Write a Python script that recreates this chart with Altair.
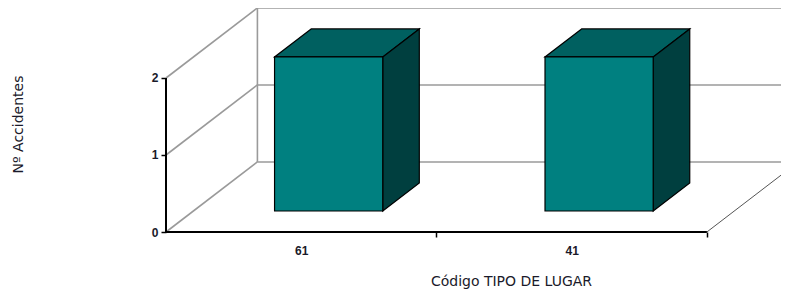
import json
import altair as alt
import pandas as pd

# ---- data ----
categories = ["61", "41"]
values = [2, 2]
y_ticks = [0, 1, 2]
x_title = "Código TIPO DE LUGAR"
y_title = "Nº Accidentes"

# ---- 3D projection geometry (in data units) ----
DX = 0.338      # depth shift along x (band units)
DY = 0.91       # depth shift along y (value units)
BAR_W = 0.40    # bar width as fraction of a band
F0, F1 = 0.3, 0.7   # depth span occupied by bars
X_MAX = 2.274
Y_MAX = 2.909

n = len(categories)
front, top, side = [], [], []
for i, (c, v) in enumerate(zip(categories, values)):
    xl = i + 0.5 - BAR_W / 2 + F0 * DX
    xr = xl + BAR_W
    yb = F0 * DY
    yt = v + F0 * DY
    ddx = (F1 - F0) * DX
    ddy = (F1 - F0) * DY
    front.append(dict(cat=c, x=xl, x2=xr, y=yb, y2=yt))
    top += [dict(cat=c, y=yt, x=xl, x2=xr),
            dict(cat=c, y=yt + ddy, x=xl + ddx, x2=xr + ddx)]
    side += [dict(cat=c, x=xr, y=yb, y2=yt),
             dict(cat=c, x=xr + ddx, y=yb + ddy, y2=yt + ddy)]

grid = []
for v in y_ticks:
    grid.append(dict(x=0, y=v, x2=DX, y2=v + DY))            # left wall
    grid.append(dict(x=DX, y=v + DY, x2=n + DX, y2=v + DY))  # back wall
grid.append(dict(x=DX, y=DY, x2=DX, y2=y_ticks[-1] + DY))    # back-left edge
floor_edge = [dict(x=n, y=0, x2=n + DX, y2=DY)]
axes_lines = [dict(x=0, y=0, x2=n, y2=0), dict(x=0, y=0, x2=0, y2=y_ticks[-1])]

front_df = pd.DataFrame(front)
top_df = pd.DataFrame(top)
side_df = pd.DataFrame(side)
grid_df = pd.DataFrame(grid)
floor_df = pd.DataFrame(floor_edge)
axes_df = pd.DataFrame(axes_lines)

xs = alt.Scale(domain=[0, X_MAX], nice=False, zero=False)
ys = alt.Scale(domain=[0, Y_MAX], nice=False, zero=False)

x_vals = [i + 0.5 for i in range(n)] + [i + 1 for i in range(n)]
x_axis = alt.Axis(
    values=x_vals,
    labelExpr=f"datum.value % 1 == 0 ? '' : {json.dumps(categories)}[floor(datum.value)]",
    tickOpacity={"condition": {"test": "datum.value % 1 != 0", "value": 0}, "value": 1},
    tickSize=5, tickColor="#000", tickWidth=1.5,
    domain=False, grid=False, labelOverlap=False, labelBound=False,
    labelFont="Liberation Sans", labelFontWeight="bold", labelFontSize=12,
    labelColor="#1a1a2a", labelPadding=8, labelBaseline="top",
    title=x_title, titleFont="DejaVu Sans", titleFontSize=14,
    titleFontWeight="normal", titleColor="#1a1a2a",
    titleX=345, titleY=53, titleAlign="center", titleBaseline="alphabetic",
)
y_axis = alt.Axis(
    values=y_ticks, tickSize=5, tickColor="#000", tickWidth=1.5,
    domain=False, grid=False, labelOverlap=False,
    labelFont="Liberation Sans", labelFontWeight="bold", labelFontSize=12,
    labelColor="#1a1a2a", labelPadding=3,
    title=y_title, titleFont="DejaVu Sans", titleFontSize=14,
    titleFontWeight="normal", titleColor="#1a1a2a",
    titleX=-148, titleY=116, titleAngle=270, titleAlign="center",
    titleBaseline="middle",
)

X = alt.X("x:Q", scale=xs, axis=x_axis)
Y = alt.Y("y:Q", scale=ys, axis=y_axis)

grid_layer = alt.Chart(grid_df).mark_rule(color="#9a9a9a", strokeWidth=1.6).encode(
    x=X, y=Y, x2="x2:Q", y2="y2:Q")
floor_layer = alt.Chart(floor_df).mark_rule(color="#555", strokeWidth=1).encode(
    x=X, y=Y, x2="x2:Q", y2="y2:Q")
front_layer = alt.Chart(front_df).mark_rect(
    color="#008080", stroke="#000", strokeWidth=1.2).encode(
    x=X, x2="x2:Q", y=Y, y2="y2:Q")
top_layer = alt.Chart(top_df).mark_area(
    orient="horizontal", color="#006060", stroke="#000", strokeWidth=1.2,
    opacity=1).encode(y=Y, x=X, x2="x2:Q", detail="cat:N")
side_layer = alt.Chart(side_df).mark_area(
    orient="vertical", color="#003f3f", stroke="#000", strokeWidth=1.2,
    opacity=1).encode(x=X, y=Y, y2="y2:Q", detail="cat:N")
axes_layer = alt.Chart(axes_df).mark_rule(color="#000", strokeWidth=2).encode(
    x=X, y=Y, x2="x2:Q", y2="y2:Q")

chart = alt.layer(
    grid_layer, floor_layer, top_layer, side_layer, front_layer, axes_layer
).properties(
    width=615, height=224,
    autosize=alt.AutoSizeParams(type="none"),
    padding={"left": 158, "top": 0, "right": 0, "bottom": 57},
    background="white",
).configure_view(stroke=None)

chart.save("out.html", embed_options={"renderer": "svg", "actions": False})
